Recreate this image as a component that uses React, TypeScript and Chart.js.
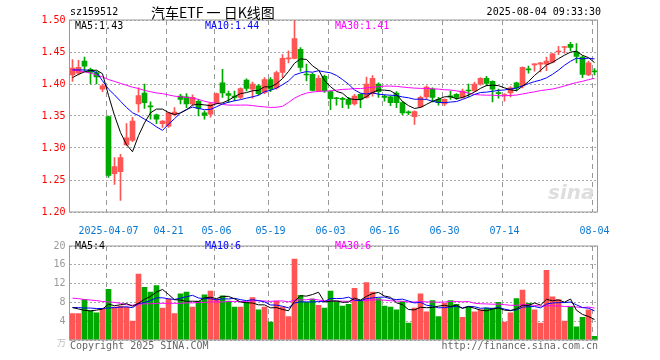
import React, { useEffect, useRef } from "react";
import { Chart, registerables } from "chart.js";
Chart.register(...registerables);

// ---------- data ----------
const dates = [
  "2025-03-27","2025-03-28","2025-03-31","2025-04-01","2025-04-02","2025-04-03","2025-04-07","2025-04-08","2025-04-09","2025-04-10",
  "2025-04-11","2025-04-14","2025-04-15","2025-04-16","2025-04-17","2025-04-18","2025-04-21","2025-04-22","2025-04-23","2025-04-24",
  "2025-04-25","2025-04-28","2025-04-29","2025-04-30","2025-05-06","2025-05-07","2025-05-08","2025-05-09","2025-05-12","2025-05-13",
  "2025-05-14","2025-05-15","2025-05-16","2025-05-19","2025-05-20","2025-05-21","2025-05-22","2025-05-23","2025-05-26","2025-05-27",
  "2025-05-28","2025-05-29","2025-05-30","2025-06-03","2025-06-04","2025-06-05","2025-06-06","2025-06-09","2025-06-10","2025-06-11",
  "2025-06-12","2025-06-13","2025-06-16","2025-06-17","2025-06-18","2025-06-19","2025-06-20","2025-06-23","2025-06-24","2025-06-25",
  "2025-06-26","2025-06-27","2025-06-30","2025-07-01","2025-07-02","2025-07-03","2025-07-04","2025-07-07","2025-07-08","2025-07-09",
  "2025-07-10","2025-07-11","2025-07-14","2025-07-15","2025-07-16","2025-07-17","2025-07-18","2025-07-21","2025-07-22","2025-07-23",
  "2025-07-24","2025-07-25","2025-07-28","2025-07-29","2025-07-30","2025-07-31","2025-08-01","2025-08-04",
];

const openP = [
  1.414,1.417,1.436,1.423,1.418,1.392,1.349,1.260,1.263,1.305,
  1.312,1.369,1.386,1.366,1.352,1.338,1.334,1.352,1.381,1.380,
  1.369,1.373,1.355,1.353,1.370,1.402,1.385,1.381,1.379,1.406,
  1.392,1.397,1.387,1.407,1.394,1.418,1.439,1.440,1.454,1.415,
  1.415,1.389,1.412,1.388,1.378,1.377,1.376,1.369,1.384,1.379,
  1.385,1.400,1.380,1.380,1.386,1.371,1.356,1.349,1.364,1.380,
  1.392,1.376,1.369,1.381,1.384,1.379,1.390,1.389,1.400,1.409,
  1.404,1.386,1.382,1.386,1.402,1.397,1.423,1.430,1.431,1.431,
  1.434,1.450,1.457,1.462,1.450,1.442,1.414,1.420,
];
const highP = [
  1.438,1.437,1.442,1.425,1.420,1.400,1.350,1.285,1.290,1.338,
  1.348,1.394,1.400,1.372,1.353,1.343,1.356,1.363,1.384,1.385,
  1.383,1.376,1.358,1.371,1.386,1.423,1.389,1.389,1.394,1.408,
  1.403,1.399,1.410,1.410,1.420,1.446,1.452,1.501,1.457,1.431,
  1.417,1.413,1.414,1.389,1.379,1.379,1.379,1.384,1.385,1.411,
  1.413,1.402,1.383,1.381,1.388,1.373,1.358,1.358,1.381,1.397,
  1.394,1.379,1.377,1.389,1.385,1.392,1.400,1.403,1.410,1.412,
  1.405,1.392,1.385,1.396,1.403,1.427,1.428,1.432,1.434,1.442,
  1.448,1.459,1.459,1.465,1.463,1.444,1.436,1.424,
];
const lowP = [
  1.404,1.414,1.421,1.400,1.400,1.388,1.254,1.243,1.218,1.304,
  1.310,1.356,1.362,1.345,1.338,1.332,1.332,1.350,1.369,1.363,
  1.367,1.350,1.345,1.348,1.369,1.379,1.371,1.374,1.377,1.389,
  1.378,1.383,1.385,1.388,1.392,1.410,1.433,1.439,1.420,1.405,
  1.389,1.388,1.387,1.360,1.367,1.363,1.362,1.367,1.363,1.378,
  1.381,1.379,1.373,1.366,1.363,1.352,1.352,1.337,1.363,1.377,
  1.372,1.367,1.366,1.376,1.376,1.378,1.380,1.388,1.398,1.397,
  1.372,1.378,1.373,1.380,1.389,1.394,1.417,1.420,1.419,1.421,
  1.433,1.446,1.448,1.452,1.433,1.410,1.413,1.414,
];
const closeP = [
  1.425,1.426,1.428,1.418,1.411,1.397,1.257,1.271,1.285,1.316,
  1.342,1.382,1.371,1.364,1.345,1.342,1.355,1.356,1.376,1.369,
  1.379,1.362,1.351,1.369,1.385,1.386,1.382,1.379,1.393,1.393,
  1.400,1.385,1.407,1.392,1.418,1.440,1.441,1.471,1.426,1.414,
  1.390,1.409,1.389,1.377,1.377,1.376,1.368,1.381,1.376,1.400,
  1.409,1.388,1.379,1.371,1.371,1.355,1.355,1.357,1.379,1.395,
  1.379,1.371,1.376,1.380,1.379,1.389,1.389,1.400,1.409,1.401,
  1.392,1.385,1.383,1.394,1.394,1.426,1.422,1.431,1.433,1.436,
  1.447,1.451,1.458,1.457,1.443,1.415,1.433,1.419,
];
// volume in units shown on the lower axis
const volume = [
  5.6,5.6,8.6,6.2,5.8,6.7,10.8,7.0,7.2,7.0,
  4.0,14.0,11.2,10.2,11.6,6.8,8.7,5.6,9.8,10.2,
  7.0,8.3,9.6,10.4,8.7,9.4,8.3,7.0,7.0,8.0,
  9.0,6.4,7.0,3.8,8.3,7.0,5.0,17.2,9.5,8.0,
  8.7,7.4,6.8,10.4,8.3,7.2,7.6,11.0,8.4,12.2,
  10.2,8.8,7.2,7.0,6.4,8.2,3.6,6.8,9.8,6.0,
  8.4,5.0,7.8,8.4,7.6,4.8,7.0,6.0,6.4,6.8,
  6.8,8.0,3.8,5.8,8.8,10.6,7.8,6.4,3.6,14.8,
  9.2,8.6,4.0,7.0,2.8,4.8,6.4,0.8,
];

// moving-average values before enough history exists in the window
const priceMA5Lead = [1.410, 1.415, 1.419, 1.421];
const priceMA10Lead = [1.422, 1.422, 1.422, 1.421, 1.418, 1.405, 1.392, 1.383, 1.373];
const priceMA30Lead = [
  1.422,1.421,1.419,1.417,1.414,1.411,1.407,1.404,1.401,1.398,
  1.395,1.393,1.390,1.388,1.386,1.385,1.383,1.381,1.380,1.379,
  1.378,1.376,1.373,1.371,1.370,1.368,1.367,1.367,1.367,
];
const volMA5Lead = [6.9, 6.6, 6.3, 6.2];
const volMA10Lead = [6.9, 6.9, 6.8, 6.8, 6.7, 6.7, 6.8, 6.9, 7.0];
const volMA30Lead = [
  8.9,8.8,8.6,8.5,8.4,8.2,8.1,8.0,7.8,7.5,
  7.4,7.6,7.7,7.7,7.8,7.8,7.8,7.8,7.8,7.9,
  7.9,8.0,8.0,8.1,8.1,8.1,8.2,8.2,8.2,
];

const tickDates = ["2025-04-07","2025-04-21","2025-05-06","2025-05-19","2025-06-03","2025-06-16","2025-06-30","2025-07-14","2025-08-04"];
const tickLabels = ["2025-04-07","04-21","05-06","05-19","06-03","06-16","06-30","07-14","08-04"];

// ---------- styling ----------
const RED = "#ff5555";
const GREEN = "#00a800";
const GRID = "#a8a8a8";
const VGRID = "#999999";
const MONO = "'DejaVu Sans Mono', 'Liberation Mono', monospace";

function movingAvg(src: number[], n: number, lead: number[]) {
  return src.map((_, i) => {
    if (i < n - 1) return lead[i];
    let s = 0;
    for (let k = i - n + 1; k <= i; k++) s += src[k];
    return s / n;
  });
}

const tickIndexList = tickDates.map((d) => dates.indexOf(d));

const framePlugin = {
  id: "frame",
  afterDraw(chart: any) {
    const { ctx, chartArea: a, scales } = chart;
    ctx.save();
    ctx.strokeStyle = "#999999";
    ctx.lineWidth = 1;
    ctx.strokeRect(a.left, a.top, a.right - a.left, a.bottom - a.top);
    // dashed date grid lines, placed through the category scale, drawn behind existing marks
    ctx.globalCompositeOperation = "destination-over";
    ctx.fillStyle = VGRID;
    tickIndexList.forEach((idx) => {
      const x = Math.floor(scales.x.getPixelForValue(idx) - 2.5);
      for (let y = Math.round(a.top); y < a.bottom; y += 9) {
        ctx.fillRect(x, y, 1, Math.min(5, a.bottom - y));
      }
    });
    ctx.restore();
  },
};

function xScale(showLabels: boolean, height: number) {
  return {
    type: "category",
    offset: true,
    grid: { display: false },
    border: { display: false },
    afterBuildTicks: (s: any) => {
      s.ticks = tickIndexList.map((v) => ({ value: v }));
    },
    ticks: {
      display: showLabels,
      autoSkip: false,
      maxRotation: 0,
      minRotation: 0,
      padding: 5,
      color: "#0a78d2",
      font: { family: MONO, size: 10 },
      callback: (v: any) => {
        const k = tickIndexList.indexOf(Number(v));
        return k >= 0 ? tickLabels[k] : "";
      },
    },
    afterFit: (s: any) => {
      s.height = height;
    },
  };
}

const T = (props: { x: number; y: number; c: string; children: any; right?: boolean; font?: string; size?: number }) => (
  <div
    style={{
      position: "absolute",
      left: props.right ? undefined : props.x,
      right: props.right ? 660 - props.x : undefined,
      top: props.y - 7,
      height: 14,
      lineHeight: "14px",
      whiteSpace: "pre",
      color: props.c,
      fontFamily: props.font || MONO,
      fontSize: props.size || 10,
    }}
  >
    {props.children}
  </div>
);

export default function App() {
  const priceRef = useRef<HTMLCanvasElement>(null);
  const volRef = useRef<HTMLCanvasElement>(null);

  const colors = closeP.map((c, i) => (c >= openP[i] ? RED : GREEN));
  const ma5 = movingAvg(closeP, 5, priceMA5Lead);
  const ma10 = movingAvg(closeP, 10, priceMA10Lead);
  const ma30 = movingAvg(closeP, 30, priceMA30Lead);
  const vma5 = movingAvg(volume, 5, volMA5Lead);
  const vma10 = movingAvg(volume, 10, volMA10Lead);
  const vma30 = movingAvg(volume, 30, volMA30Lead);
  const last = dates.length - 1;

  useEffect(() => {
    const lineDs = (data: number[], color: string) => ({
      type: "line",
      data,
      borderColor: color,
      borderWidth: 1,
      pointRadius: 0,
      tension: 0,
      fill: false,
      order: 0,
    });

    const price = new Chart(priceRef.current!, {
      type: "bar",
      data: {
        labels: dates,
        datasets: [
          lineDs(ma5, "#000000"),
          lineDs(ma10, "#0000ff"),
          lineDs(ma30, "#ff00ff"),
          {
            type: "bar",
            data: lowP.map((l, i) => [l, highP[i]]),
            backgroundColor: colors,
            barThickness: 1,
            grouped: false,
            order: 2,
          },
          {
            type: "bar",
            data: openP.map((o, i) => [o, closeP[i]]),
            backgroundColor: colors,
            barThickness: 5,
            minBarLength: 1,
            grouped: false,
            order: 1,
          },
        ],
      } as any,
      options: {
        animation: false,
        responsive: false,
        events: [],
        layout: { padding: { top: 20, right: 62.5, left: 0, bottom: 0 } },
        plugins: { legend: { display: false }, tooltip: { enabled: false } },
        scales: {
          x: xScale(true, 24),
          y: {
            min: 1.2,
            max: 1.5,
            grid: { color: GRID, drawTicks: false },
            border: { display: false, dash: [2, 2] },
            ticks: {
              stepSize: 0.05,
              padding: 4,
              color: "#ff0000",
              font: { family: MONO, size: 10 },
              callback: (v: any) => Number(v).toFixed(2),
            },
            afterFit: (s: any) => {
              s.width = 69.5;
            },
          },
        } as any,
      },
      plugins: [framePlugin],
    });

    const vol = new Chart(volRef.current!, {
      type: "bar",
      data: {
        labels: dates,
        datasets: [
          lineDs(vma5, "#000000"),
          lineDs(vma10, "#0000ff"),
          lineDs(vma30, "#ff00ff"),
          {
            type: "bar",
            data: volume,
            backgroundColor: colors,
            barThickness: 5,
            grouped: false,
            order: 1,
          },
        ],
      } as any,
      options: {
        animation: false,
        responsive: false,
        events: [],
        layout: { padding: { top: 4, right: 62.5, left: 0, bottom: 0 } },
        plugins: { legend: { display: false }, tooltip: { enabled: false } },
        scales: {
          x: xScale(false, 20),
          y: {
            min: 0,
            max: 20,
            grid: { color: GRID, drawTicks: false },
            border: { display: false, dash: [2, 2] },
            ticks: {
              stepSize: 4,
              padding: 4,
              color: "#999999",
              font: { family: MONO, size: 10 },
              callback: (v: any) => (Number(v) === 0 ? "" : String(v)),
            },
            afterFit: (s: any) => {
              s.width = 69.5;
            },
          },
        } as any,
      },
      plugins: [framePlugin],
    });

    return () => {
      price.destroy();
      vol.destroy();
    };
  }, []);

  return (
    <div style={{ position: "absolute", left: 0, top: 0, width: 660, height: 360, background: "#fff", overflow: "hidden" }}>
      <canvas ref={priceRef} width={660} height={236} style={{ position: "absolute", left: 0, top: 0 }} />
      <canvas ref={volRef} width={660} height={124} style={{ position: "absolute", left: 0, top: 236 }} />

      <T x={70} y={12} c="#000">sz159512</T>
      <T x={151} y={12} c="#000" font="'Noto Sans CJK SC', sans-serif" size={14}>汽车ETF 一 日K线图</T>
      <T x={601} y={12} c="#000" right>2025-08-04 09:33:30</T>

      <T x={75} y={26} c="#000">MA5:{ma5[last].toFixed(2)}</T>
      <T x={205} y={26} c="#0000ff">MA10:{ma10[last].toFixed(2)}</T>
      <T x={335} y={26} c="#ff00ff">MA30:{ma30[last].toFixed(2)}</T>

      <div style={{ position: "absolute", left: 548, top: 181, fontFamily: "'DejaVu Sans', sans-serif", fontStyle: "italic", fontWeight: "bold", fontSize: 20, color: "#dedede", lineHeight: "22px" }}>sina</div>

      <T x={75} y={246} c="#000">MA5:{Math.floor(vma5[last])}</T>
      <T x={205} y={246} c="#0000ff">MA10:{Math.floor(vma10[last])}</T>
      <T x={335} y={246} c="#ff00ff">MA30:{Math.floor(vma30[last])}</T>
      <T x={57} y={343} c="#bbbbbb" font="'Noto Sans CJK SC', sans-serif" size={9}>万</T>

      <T x={70} y={346} c="#666">Copyright 2025 SINA.COM</T>
      <T x={598} y={346} c="#666" right>http://finance.sina.com.cn</T>
    </div>
  );
}
